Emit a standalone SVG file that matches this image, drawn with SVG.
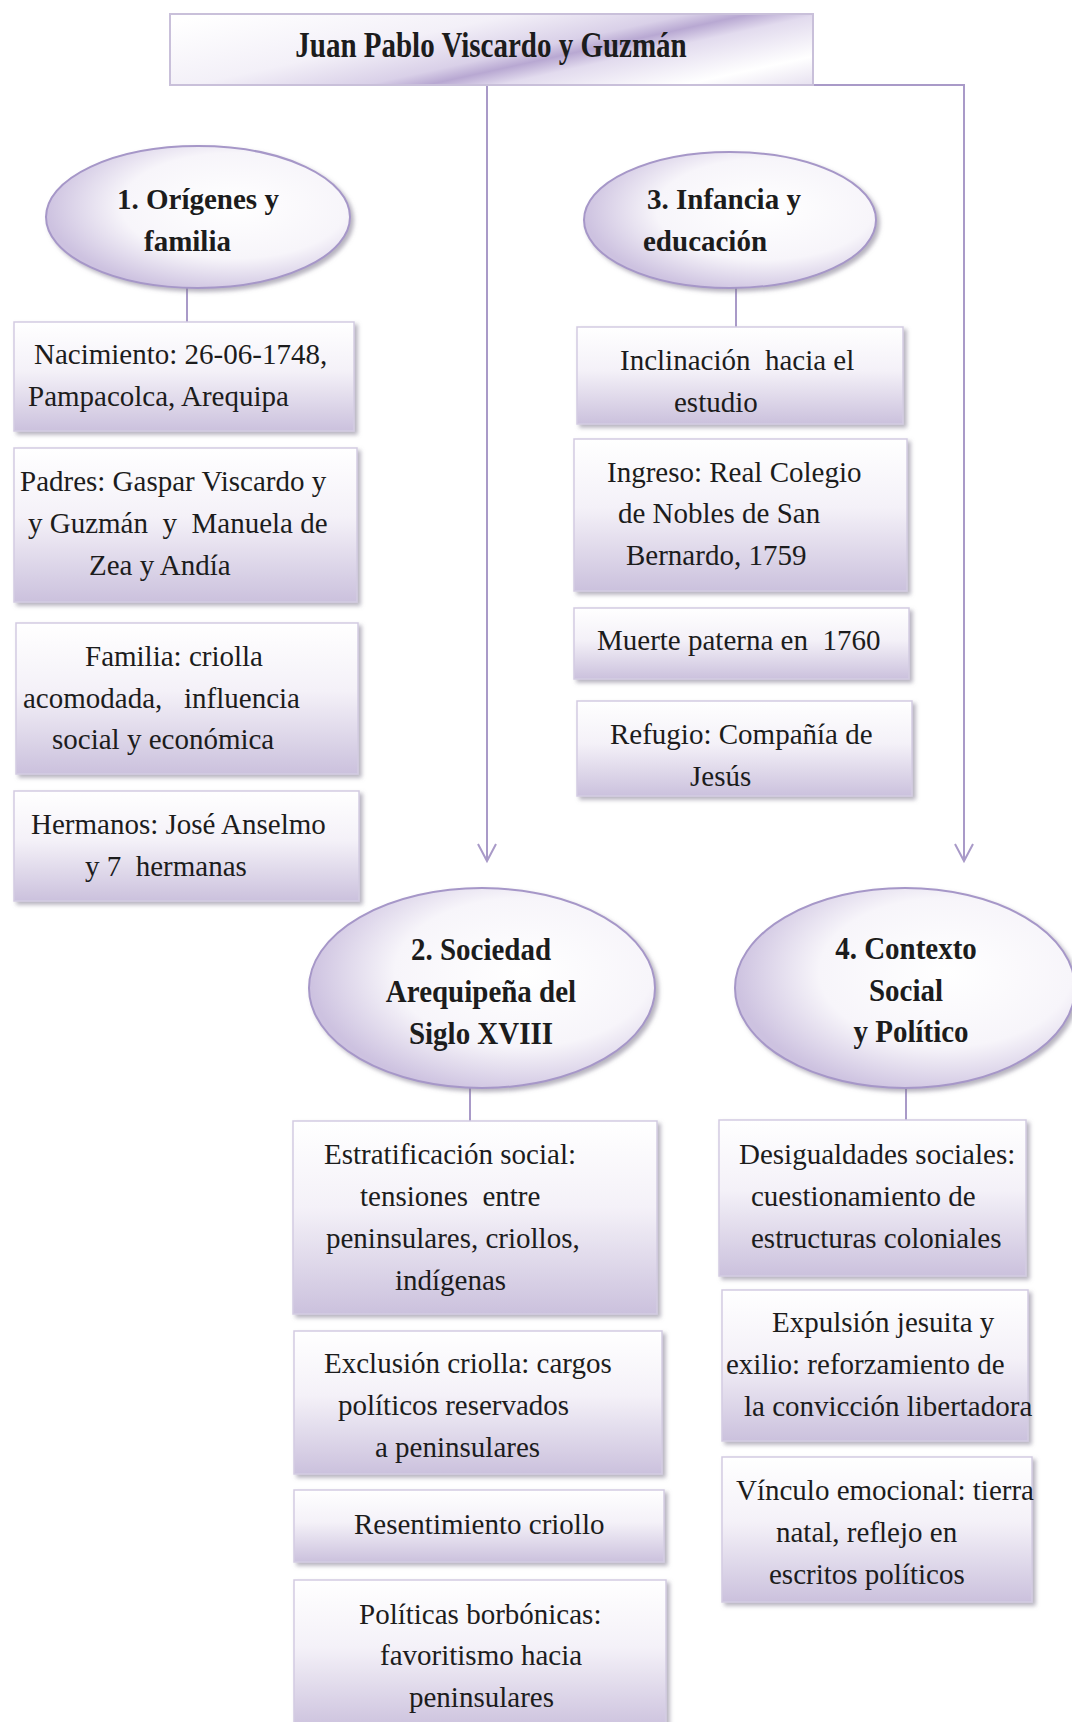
<svg xmlns="http://www.w3.org/2000/svg" width="1072" height="1722" viewBox="0 0 1072 1722">
<defs>
<style>
.t{font-family:"Liberation Serif","Times New Roman",serif;font-size:29px;fill:#1c1c1c}
.b{font-family:"Liberation Serif","Times New Roman",serif;font-size:29px;font-weight:bold;fill:#1c1c1c}
.box{fill:url(#gBox);stroke:#d3cce2;stroke-width:1.5;filter:url(#sh)}
.ell{fill:url(#gEll);stroke:#a697c8;stroke-width:2;filter:url(#sh)}
.con{fill:none;stroke:#a99ac8;stroke-width:2}
</style>
<linearGradient id="gBox" x1="0" y1="0" x2="0" y2="1">
<stop offset="0" stop-color="#ffffff"/>
<stop offset="0.45" stop-color="#f4f1f8"/>
<stop offset="1" stop-color="#cbc1dd"/>
</linearGradient>
<radialGradient id="gEll" cx="0.62" cy="0.42" r="0.62">
<stop offset="0" stop-color="#ffffff"/>
<stop offset="0.6" stop-color="#f7f5fa"/>
<stop offset="1" stop-color="#cdc2e0"/>
</radialGradient>
<linearGradient id="gTitle" gradientUnits="userSpaceOnUse" x1="455" y1="-40" x2="502" y2="174">
<stop offset="0" stop-color="#ffffff"/>
<stop offset="0.3" stop-color="#f3f0f8"/>
<stop offset="0.47" stop-color="#d9d0e8"/>
<stop offset="0.53" stop-color="#b8a8d2"/>
<stop offset="0.6" stop-color="#e2dbee"/>
<stop offset="0.78" stop-color="#ffffff"/>
<stop offset="1" stop-color="#d4cae4"/>
</linearGradient>
<filter id="sh" x="-10%" y="-10%" width="125%" height="130%">
<feDropShadow dx="3" dy="3" stdDeviation="2" flood-color="#7a7388" flood-opacity="0.55"/>
</filter>
<marker id="arr" viewBox="-19 -11 22 22" refX="0" refY="0" markerWidth="22" markerHeight="22" markerUnits="userSpaceOnUse" orient="auto">
<path d="M-17,-9 L0,0 L-17,9" fill="none" stroke="#a99ac8" stroke-width="2"/>
</marker>
</defs>
<rect width="1072" height="1722" fill="#ffffff"/>

<g id="connectors">
<line class="con" x1="487" y1="85" x2="487" y2="861" marker-end="url(#arr)"/>
<polyline class="con" points="813,85 964,85 964,861" marker-end="url(#arr)"/>
<line class="con" x1="187" y1="288" x2="187" y2="322"/>
<line class="con" x1="736" y1="288" x2="736" y2="327"/>
<line class="con" x1="470" y1="1087" x2="470" y2="1121"/>
<line class="con" x1="906" y1="1087" x2="906" y2="1120"/>
</g>

<g id="title">
<rect x="170" y="14" width="643" height="71" fill="url(#gTitle)" stroke="#c9c0da" stroke-width="2"/>
<text class="b" transform="translate(491,57) scale(1,1.2)" x="0" y="0" text-anchor="middle">Juan Pablo Viscardo y Guzmán</text>
</g>

<g id="n1">
<ellipse class="ell" cx="198" cy="217" rx="152" ry="71"/>
<text class="b" x="117" y="209">1. Orígenes y</text>
<text class="b" x="144" y="251">familia</text>
</g>
<g id="n1a">
<rect class="box" x="14" y="322" width="340" height="109"/>
<text class="t" x="34" y="364">Nacimiento: 26-06-1748,</text>
<text class="t" x="28" y="406">Pampacolca, Arequipa</text>
</g>
<g id="n1b">
<rect class="box" x="14" y="448" width="343" height="154"/>
<text class="t" x="20" y="491">Padres: Gaspar Viscardo y</text>
<text class="t" x="28" y="533" xml:space="preserve">y Guzmán  y  Manuela de</text>
<text class="t" x="89" y="575">Zea y Andía</text>
</g>
<g id="n1c">
<rect class="box" x="16" y="623" width="342" height="151"/>
<text class="t" x="85" y="666">Familia: criolla</text>
<text class="t" x="23" y="708" xml:space="preserve">acomodada,   influencia</text>
<text class="t" x="52" y="749">social y económica</text>
</g>
<g id="n1d">
<rect class="box" x="14" y="791" width="345" height="110"/>
<text class="t" x="31" y="834">Hermanos: José Anselmo</text>
<text class="t" x="85" y="876" xml:space="preserve">y 7  hermanas</text>
</g>

<g id="n3">
<ellipse class="ell" cx="730" cy="220" rx="146" ry="68"/>
<text class="b" x="647" y="209">3. Infancia y</text>
<text class="b" x="643" y="251">educación</text>
</g>
<g id="n3a">
<rect class="box" x="577" y="327" width="326" height="97"/>
<text class="t" x="620" y="370" xml:space="preserve">Inclinación  hacia el</text>
<text class="t" x="674" y="412">estudio</text>
</g>
<g id="n3b">
<rect class="box" x="574" y="439" width="333" height="152"/>
<text class="t" x="607" y="482">Ingreso: Real Colegio</text>
<text class="t" x="618" y="523">de Nobles de San</text>
<text class="t" x="626" y="565">Bernardo, 1759</text>
</g>
<g id="n3c">
<rect class="box" x="574" y="608" width="335" height="71"/>
<text class="t" x="597" y="650" xml:space="preserve">Muerte paterna en  1760</text>
</g>
<g id="n3d">
<rect class="box" x="577" y="701" width="335" height="95"/>
<text class="t" x="610" y="744">Refugio: Compañía de</text>
<text class="t" x="690" y="786">Jesús</text>
</g>

<g id="n2">
<ellipse class="ell" cx="482" cy="988" rx="173" ry="100"/>
<text class="b" transform="translate(481,960) scale(1,1.12)" text-anchor="middle">2. Sociedad</text>
<text class="b" transform="translate(481,1002) scale(1,1.12)" text-anchor="middle">Arequipeña del</text>
<text class="b" transform="translate(481,1044) scale(1,1.12)" text-anchor="middle">Siglo XVIII</text>
</g>
<g id="n2a">
<rect class="box" x="293" y="1121" width="364" height="193"/>
<text class="t" x="324" y="1164">Estratificación social:</text>
<text class="t" x="360" y="1206" xml:space="preserve">tensiones  entre</text>
<text class="t" x="326" y="1248">peninsulares, criollos,</text>
<text class="t" x="395" y="1290">indígenas</text>
</g>
<g id="n2b">
<rect class="box" x="294" y="1331" width="368" height="143"/>
<text class="t" x="324" y="1373">Exclusión criolla: cargos</text>
<text class="t" x="338" y="1415">políticos reservados</text>
<text class="t" x="375" y="1457">a peninsulares</text>
</g>
<g id="n2c">
<rect class="box" x="294" y="1490" width="370" height="72"/>
<text class="t" x="354" y="1534">Resentimiento criollo</text>
</g>
<g id="n2d">
<rect class="box" x="294" y="1580" width="372" height="150"/>
<text class="t" x="359" y="1624">Políticas borbónicas:</text>
<text class="t" x="380" y="1665">favoritismo hacia</text>
<text class="t" x="409" y="1707">peninsulares</text>
</g>

<g id="n4">
<ellipse class="ell" cx="905" cy="988" rx="170" ry="100"/>
<text class="b" transform="translate(906,959) scale(1,1.12)" text-anchor="middle">4. Contexto</text>
<text class="b" transform="translate(906,1001) scale(1,1.12)" text-anchor="middle">Social</text>
<text class="b" transform="translate(911,1042) scale(1,1.12)" text-anchor="middle">y Político</text>
</g>
<g id="n4a">
<rect class="box" x="719" y="1120" width="307" height="156"/>
<text class="t" x="739" y="1164">Desigualdades sociales:</text>
<text class="t" x="751" y="1206">cuestionamiento de</text>
<text class="t" x="751" y="1248">estructuras coloniales</text>
</g>
<g id="n4b">
<rect class="box" x="722" y="1290" width="306" height="151"/>
<text class="t" x="772" y="1332">Expulsión jesuita y</text>
<text class="t" x="726" y="1374">exilio: reforzamiento de</text>
<text class="t" x="744" y="1416">la convicción libertadora</text>
</g>
<g id="n4c">
<rect class="box" x="722" y="1457" width="310" height="145"/>
<text class="t" x="736" y="1500">Vínculo emocional: tierra</text>
<text class="t" x="776" y="1542">natal, reflejo en</text>
<text class="t" x="769" y="1584">escritos políticos</text>
</g>
</svg>
